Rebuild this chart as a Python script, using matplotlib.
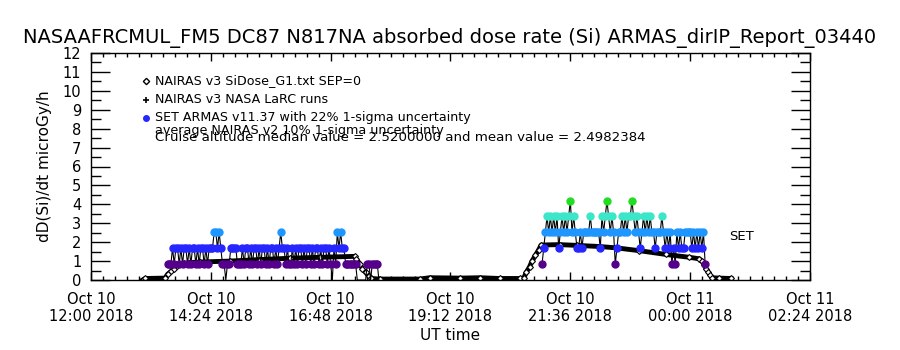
import matplotlib
matplotlib.use("Agg")
import matplotlib.pyplot as plt
import matplotlib.dates as mdates
from matplotlib.ticker import FixedLocator, MultipleLocator
import numpy as np
import pandas as pd

T0 = pd.Timestamp("2018-10-10 12:00")

# NAIRAS v3 SiDose_G1 model: minutes after 12:00 UT, dose rate (microGy/h)
model_min = [62, 65, 89, 92, 96, 100, 103, 107, 112, 119, 131, 167, 203, 239, 275, 317,
             319, 323, 326, 330, 334, 337, 347, 395, 407, 443, 467, 491, 515,
             520, 523, 527, 530, 534, 538, 541, 563, 584, 611, 631, 659, 691, 719, 731,
             734, 737, 739, 742, 744, 746, 755, 769]
model_dose = [0.0, 0.08, 0.1, 0.3, 0.45, 0.6, 0.72, 0.82, 0.88, 0.92, 0.95, 1.0, 1.08, 1.15, 1.2, 1.25,
              1.1, 0.85, 0.6, 0.4, 0.2, 0.08, 0.05, 0.05, 0.12, 0.1, 0.12, 0.08, 0.08,
              0.1, 0.4, 0.7, 1.0, 1.3, 1.6, 1.85, 1.87, 1.83, 1.77, 1.7, 1.55, 1.35, 1.2, 1.12,
              1.0, 0.8, 0.6, 0.4, 0.25, 0.12, 0.1, 0.08]

# SET ARMAS readings, one level per 2-minute sample, dose = level * ARMAS_QUANTUM
ARMAS_QUANTUM = 0.84
ARMAS_STEP_MIN = 2
flight1_start = 92
flight1_levels = ("111" "212212122121221212212122" "233232" "11" "0" "11" "2222" "111"
                  "21221212212122121221212" "32" "2121" "1"
                  "212122121221212212122121" "0" "21" "3232" "21" "111111" "000000" "11011110")
flight2_start = 542
flight2_levels = ("1" "2" "3" "4343434" "2" "343434" "5" "343" "22323" "333" "4" "33333" "2"
                  "434" "5" "4343" "12" "33" "434344543432343434" "332333" "4" "3"
                  "232312132322" "3333" "23232323" "1")

level_colors = ["black", "#55008c", "#2626ff", "#1e96ff", "#3ce6c8", "#22dd22"]

title = "NASAAFRCMUL_FM5 DC87 N817NA absorbed dose rate (Si) ARMAS_dirIP_Report_03440"
legend_lines = ["NAIRAS v3 SiDose_G1.txt SEP=0",
                "NAIRAS v3 NASA LaRC runs",
                "SET ARMAS v11.37 with 22% 1-sigma uncertainty"]
note_average = "average NAIRAS v2 10% 1-sigma uncertainty"
note_cruise = "Cruise altitude median value = 2.5200000 and mean value = 2.4982384"


def to_time(minutes):
    return T0 + pd.to_timedelta(np.asarray(minutes, dtype=float), unit="min")


fig = plt.figure(figsize=(9, 3.5), dpi=100)
ax = fig.add_axes([91 / 900, 70 / 350, 719 / 900, 227 / 350])

ax.plot(to_time(model_min), model_dose, color="black", lw=3.5, marker="D", ms=3,
        mfc="white", mec="black", mew=0.8, zorder=2)

for start, levels in [(flight1_start, flight1_levels), (flight2_start, flight2_levels)]:
    lev = np.array([int(c) for c in levels])
    mins = start + ARMAS_STEP_MIN * np.arange(len(lev))
    times = to_time(mins)
    dose = lev * ARMAS_QUANTUM
    ax.plot(times, dose, color="black", lw=0.8, zorder=3)
    for k in range(1, 6):
        sel = lev == k
        ax.plot(times[sel], dose[sel], ls="none", marker="o", ms=5,
                color=level_colors[k], mec=level_colors[k], zorder=4)

ax.text(to_time([782])[0], 2.3, "SET", fontsize=9.5, ha="center", va="center")

# legend drawn the way the original tool does it
leg_y = [0.877, 0.793, 0.714]
ax.plot([0.0765], [leg_y[0]], transform=ax.transAxes, marker="D", ms=3.2, mfc="white",
        mec="black", mew=1, clip_on=False)
ax.plot([0.0765], [leg_y[1]], transform=ax.transAxes, marker="+", ms=5, color="black",
        mew=1.2, clip_on=False)
ax.plot([0.0765], [leg_y[2]], transform=ax.transAxes, marker="o", ms=4, color="#2626ff",
        clip_on=False)
for y, s in zip(leg_y, legend_lines):
    ax.text(0.089, y, s, transform=ax.transAxes, fontsize=9.1, va="center")
ax.text(0.089, 0.659, note_average, transform=ax.transAxes, fontsize=9.2, va="center")
ax.text(0.089, 0.626, note_cruise, transform=ax.transAxes, fontsize=9.6, va="center")

ticks = pd.date_range(T0, periods=7, freq="144min")
ax.set_xlim(ticks[0], ticks[-1])
ax.xaxis.set_major_locator(FixedLocator(mdates.date2num(ticks)))
ax.xaxis.set_minor_locator(FixedLocator(mdates.date2num(
    pd.date_range(T0, ticks[-1], freq="864s"))))
ax.set_xticklabels([t.strftime("%b %d\n%H:%M %Y") for t in ticks], fontsize=10.5,
                   linespacing=1.15)
ax.set_ylim(0, 12)
ax.yaxis.set_major_locator(MultipleLocator(1))
ax.yaxis.set_minor_locator(MultipleLocator(0.5))
ax.tick_params(axis="y", labelsize=10.5, direction="in", right=True, length=14, width=1, pad=7)
ax.tick_params(axis="y", which="minor", direction="in", right=True, length=7, width=1)
ax.tick_params(axis="x", direction="in", top=True, length=6, width=1, pad=9)
ax.tick_params(axis="x", which="minor", direction="in", top=True, length=3, width=1)
for sp in ax.spines.values():
    sp.set_linewidth(1)

ax.set_xlabel("UT time", fontsize=11, labelpad=3)
ax.set_ylabel("dD(Si)/dt microGy/h", fontsize=11, labelpad=8)
fig.text(0.5, 1 - 38 / 350, title, fontsize=14, ha="center", va="center")

fig.savefig("out.png", dpi=100)
